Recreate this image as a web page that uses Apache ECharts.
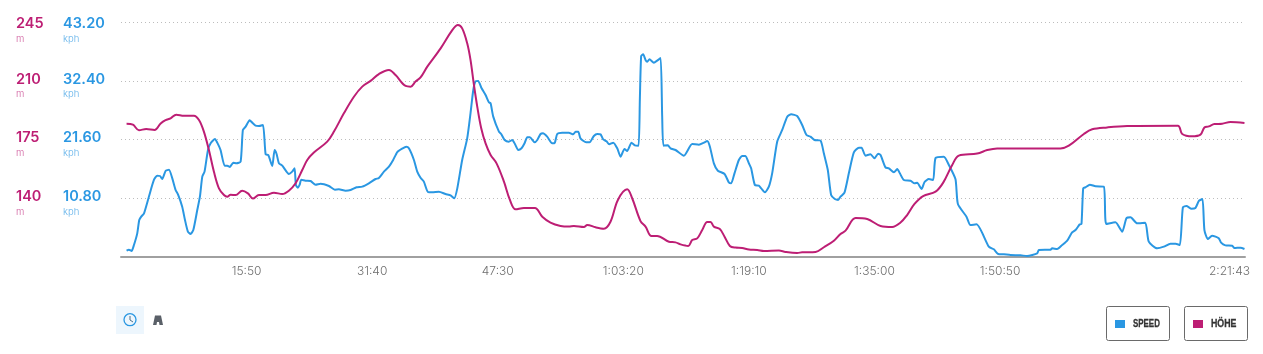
<!DOCTYPE html>
<html><head><meta charset="utf-8">
<script src="https://cdn.jsdelivr.net/npm/echarts@6/dist/echarts.min.js"></script>
<style>html,body{margin:0;padding:0;background:#fff}#c{width:1263px;height:354px}</style>
</head><body><div id="c"></div>
<script>
const speedTimes=[42,60,80,98,123,138,153,174,211,249,274,295,312,337,363,388,413,431,463,484,506,526,547,577,597,615,632,658,678,711,728,753,784,804,824,849,874,905,922,943,973,993,1018,1043,1074,1094,1114,1144,1162,1177,1195,1220,1270,1295,1313,1323,1338,1351,1364,1396,1434,1472,1510,1573,1618,1648,1699,1737,1782,1825,1875,1926,1951,1989,2027,2059,2090,2127,2158,2178,2216,2241,
2266,2291,2322,2354,2405,2455,2493,2521,2544,2581,2619,2644,2665,2682,2702,2728,2758,2783,2796,2816,2859,2876,2902,2934,2960,2980,3005,3030,3053,3073,3093,3129,3149,3174,3192,3224,3262,3282,3300,3338,3388,3421,3439,3459,3476,3519,3545,3577,3603,3628,3648,3673,3693,3724,3754,3779,3809,3829,3862,3887,3915,3925,3935,3950,3968,3981,3998,4031,4056,4082,4094,4104,4137,4157,4195,4258,4321,4372,4409,4435,4455,4485,4515,4566,4598,4616,4641,4674,4699,4724,4750,4767,4795,4825,4843,4871,4901,4926,4964,5002,5040,5070,5115,5153,5186,5216,5246,5292,5317,5347,5372,5400,5425,
5443,5473,5506,5544,5582,5602,5632,5670,5700,5728,5746,5783,5809,5847,5872,5892,5922,5973,6003,6023,6056,6079,6111,6144,6162,6225,6263,6313,6331,6396,6426,6472,6565,6603,6636,6679,6729,6805,6855,6931,6943,7032,7044,7082,7120,7158,7195,7221,7253,7266,7279,7296,7329,7372,7435,7453,7523,7574,7606,7637,7687,7748,7775,7838,7889,7939,7977,8010,8033,8060,8098,8128,8154,8181,8196,8222,8254,8305,8322,8355,8406,8423,8469,8499];
const speedValues=[1.16,1.35,1.10,2.21,4.35,6.80,7.41,8.03,11.09,14.16,14.95,14.89,14.34,15.81,16.06,14.46,12.32,11.52,9.25,6.80,4.66,4.23,4.96,8.64,11.09,14.77,15.69,19.67,20.90,21.69,21.02,19.67,16.79,16.79,16.55,17.34,17.22,17.53,23.35,23.96,25.12,24.70,24.14,24.08,24.27,18.87,18.75,16.73,19.67,18.94,17.22,16.79,15.26,15.69,16.30,13.24,12.75,13.24,14.22,14.03,13.97,13.30,13.48,13.05,12.38,12.44,12.19,12.32,12.81,12.93,13.54,14.34,14.52,15.69,16.61,17.83,19.30,19.92,20.28,19.98,17.83,15.69,
14.58,13.85,11.95,11.89,12.01,11.58,11.34,10.79,12.62,17.83,21.82,26.41,30.70,32.29,32.36,31.01,29.78,28.43,28.25,25.80,23.04,22.61,21.51,21.20,21.51,20.77,19.67,19.98,20.90,22.00,22.00,21.08,21.51,22.61,22.73,22.12,20.90,21.02,22.61,22.86,22.86,22.55,23.04,23.04,21.82,21.08,21.08,22.24,22.61,22.55,21.63,21.26,20.71,21.02,19.98,18.45,19.85,19.49,21.02,20.53,20.47,28.86,36.95,37.26,36.22,35.91,36.34,35.73,36.09,36.58,25.80,20.47,20.53,19.98,19.67,18.63,20.77,20.65,21.02,21.33,20.28,17.22,15.87,15.26,13.73,13.54,15.38,17.83,18.57,18.57,17.22,16.30,13.24,13.11,12.62,11.89,12.93,15.38,21.20,23.35,25.80,26.23,25.92,24.27,22.43,22.12,21.51,21.39,19.06,15.99,11.40,10.66,10.48,
11.09,11.83,15.38,19.24,20.10,20.10,18.63,18.87,18.14,19.00,18.75,16.48,16.30,15.57,16.18,15.38,14.16,14.03,13.54,13.67,12.50,13.79,14.34,14.16,18.20,18.45,16.91,14.28,9.74,7.41,5.88,6.01,1.90,1.41,0.55,0.49,0.37,0.31,0.18,0.67,1.29,1.35,1.59,1.47,2.21,3.00,4.53,4.96,6.01,6.07,12.62,12.81,13.30,12.99,12.93,6.07,6.37,4.66,7.11,7.29,6.19,6.31,2.82,1.59,1.90,2.45,2.45,2.21,9.13,9.38,8.89,9.01,10.30,10.66,4.96,3.31,3.92,3.43,2.64,2.14,2.08,1.65,1.72,1.47];
const heightTimes=[42,90,136,191,254,300,337,375,418,476,552,590,627,665,703,741,779,804,829,867,917,960,998,1043,1094,1157,1220,1270,1321,1371,1409,1459,1560,1611,1686,1762,1825,1888,1951,2027,2077,2153,2191,2228,
2266,2317,2418,2506,2549,2581,2619,2644,2670,2695,2725,2758,2796,2841,2897,2942,2985,3048,3131,3187,3249,3325,3388,3426,3502,3527,3590,3653,3703,3759,3829,3867,3930,3968,4013,4056,4145,4195,4233,4291,4321,4359,4397,4435,4460,4485,4530,4566,4606,4649,4699,4750,4813,4863,4977,5027,5115,5153,5254,5317,5393,5443,
5481,5557,5645,5746,5834,5897,5947,6003,6068,6162,6220,6288,6338,6477,6553,6628,7107,7170,7284,7347,7460,7611,7995,8028,8103,8166,8196,8229,8272,8330,8393,8499];
const heightValues=[184.4,183.8,180.5,181.3,180.7,184.6,186.6,187.6,189.8,189.2,189.2,186.6,179.7,168.7,155.8,145.9,141.9,140.9,142.1,141.9,144.5,142.9,139.8,141.9,141.9,143.3,142.5,144.5,148.9,156.8,162.8,167.2,173.7,179.7,190.6,200.5,206.5,209.9,214.0,216.4,213.4,206.9,206.5,209.5,
212.0,218.4,229.3,240.2,243.2,241.2,232.3,222.4,207.5,194.6,181.7,172.7,165.8,160.8,149.9,139.0,133.4,134.2,134.2,129.0,125.5,123.5,123.1,123.5,122.9,124.1,122.7,121.9,126.0,139.0,145.3,140.0,126.4,123.1,117.5,117.5,114.1,113.7,112.5,111.6,115.1,116.1,121.1,125.9,125.9,123.1,121.7,117.1,111.6,110.6,110.4,109.4,109.2,108.6,108.8,108.0,107.4,107.8,108.0,110.8,114.7,118.7,
120.7,128.2,127.6,123.5,122.9,125.5,130.0,136.6,141.3,143.9,149.3,159.8,165.4,166.6,168.7,169.7,169.7,171.3,178.3,181.1,182.2,183.0,183.2,178.3,176.9,177.9,182.2,182.8,184.2,184.4,185.4,184.8];
const timeTicks=[950,1900,2850,3800,4750,5700,6650,8503];
const timeLabels=['15:50','31:40','47:30','1:03:20','1:19:10','1:35:00','1:50:50','2:21:43'];
const legendNames=['SPEED','HÖHE'];
const BLUE='#2a97e2',MAG='#bd1e74';
const zip=(a,b)=>a.map((v,i)=>[v,b[i]]);
const lbl=(color,unitColor,unit,dec)=>({
  show:true,align:'left',color,
  formatter:v=>{
    if(v===0||v===105) return '';
    const t=dec?v.toFixed(dec):String(v);
    const top=(v===43.2||v===245);
    return `{${top?'t':'s'}| }\n{n|${t}}\n{u|${unit}}`;
  },
  rich:{
    t:{fontSize:4,lineHeight:19},
    s:{fontSize:4,lineHeight:12},
    n:{fontFamily:'Inter',fontWeight:600,fontSize:14.5,color,lineHeight:15},
    u:{fontFamily:'Inter',fontWeight:300,fontSize:9.5,color:unitColor,lineHeight:15}
  }
});
const chart=echarts.init(document.getElementById('c'),null,{renderer:'canvas'});
chart.setOption({
  animation:false,
  grid:{left:121,right:18,top:22,height:235,containLabel:false},
  xAxis:{type:'value',min:0,max:8503,
    axisLine:{show:true,onZero:false,lineStyle:{color:'#a0a0a0',width:2}},
    axisTick:{show:false},splitLine:{show:false},
    axisLabel:{customValues:timeTicks,alignMaxLabel:'right',margin:8,color:'#6e6e6e',fontFamily:'Inter',fontWeight:300,fontSize:12,
      formatter:v=>{const s=timeLabels[timeTicks.indexOf(v)];return v===8503?`{l|${s}}`:s;},
      rich:{l:{color:'#6e6e6e',fontFamily:'Inter',fontWeight:300,fontSize:12,padding:[0,-5,0,0]}}}
  },
  yAxis:[
    {type:'value',min:105,max:245,interval:35,position:'left',axisLine:{show:false},axisTick:{show:false},
      splitLine:{show:false},axisLabel:Object.assign(lbl(MAG,'#cf5c9d','m',0),{margin:105})},
    {type:'value',min:0,max:43.2,interval:10.8,position:'left',axisLine:{show:false},axisTick:{show:false},
      splitLine:{show:true,lineStyle:{color:'#bdbdbd',type:[1,3],width:1}},axisLabel:Object.assign(lbl(BLUE,'#62b2ea','kph',2),{margin:58})}
  ],
  series:[
    {name:legendNames[0],type:'line',yAxisIndex:1,data:zip(speedTimes,speedValues),showSymbol:false,smooth:0.2,lineStyle:{color:BLUE,width:2},z:2},
    {name:legendNames[1],type:'line',yAxisIndex:0,data:zip(heightTimes,heightValues),showSymbol:false,smooth:0.35,lineStyle:{color:MAG,width:2},z:3}
  ],
  graphic:[
    {type:'rect',shape:{x:116,y:306,width:28,height:28},style:{fill:'#edf6fd'}},
    {type:'circle',shape:{cx:130,cy:319.7,r:6},style:{fill:'none',stroke:BLUE,lineWidth:1.3}},
    {type:'polyline',shape:{points:[[130,316],[130,320],[133,322]]},style:{fill:'none',stroke:'#4a6f8a',lineWidth:1}},
    {type:'polygon',shape:{points:[[155,315.5],[161,315.5],[163,325],[159.5,325],[159,322],[157,322],[156.5,325],[153,325]]},style:{fill:'#5a6068'}},
    {type:'rect',shape:{x:1106.5,y:306.5,width:63,height:34,r:2},style:{fill:'#fff',stroke:'#6a6a6a',lineWidth:1}},
    {type:'rect',shape:{x:1115,y:320,width:10,height:8},style:{fill:BLUE}},
    {type:'text',x:1133,y:323.5,scaleX:0.72,style:{x:0,y:0,text:legendNames[0],fill:'#333',stroke:'#333',lineWidth:0.3,font:'bold 11px "Liberation Sans"',verticalAlign:'middle'}},
    {type:'rect',shape:{x:1184.5,y:306.5,width:63,height:34,r:2},style:{fill:'#fff',stroke:'#6a6a6a',lineWidth:1}},
    {type:'rect',shape:{x:1193,y:320,width:10,height:8},style:{fill:MAG}},
    {type:'text',x:1211,y:323.5,scaleX:0.8,style:{x:0,y:0,text:legendNames[1],fill:'#333',stroke:'#333',lineWidth:0.3,font:'bold 11px "Liberation Sans"',verticalAlign:'middle'}}
  ]
});
</script></body></html>
